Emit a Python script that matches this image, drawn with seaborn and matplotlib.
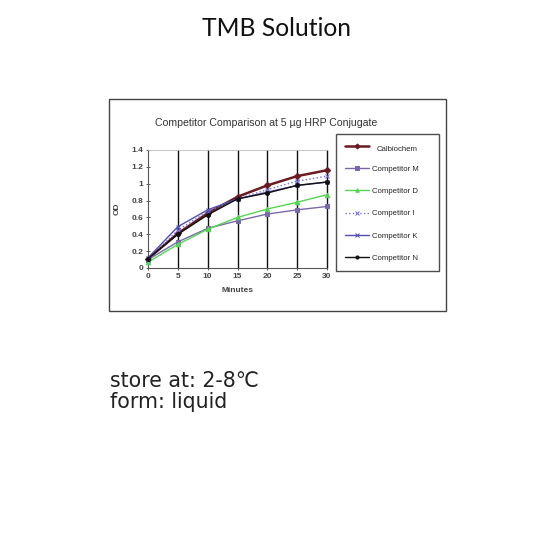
import matplotlib
matplotlib.use('Agg')
import matplotlib.pyplot as plt
import seaborn as sns
from matplotlib.patches import Rectangle

# Data
minutes = [0, 5, 10, 15, 20, 25, 30]
calbiochem = [0.11, 0.41, 0.65, 0.845, 0.98, 1.09, 1.16]
competitor_m = [0.10, 0.31, 0.47, 0.56, 0.64, 0.69, 0.73]
competitor_d = [0.07, 0.28, 0.46, 0.60, 0.70, 0.78, 0.87]
competitor_i = [0.10, 0.45, 0.67, 0.82, 0.93, 1.03, 1.09]
competitor_k = [0.12, 0.49, 0.69, 0.82, 0.90, 0.98, 1.02]
competitor_n = [0.11, 0.40, 0.63, 0.82, 0.89, 0.98, 1.02]
series_names = ['Calbiochem', 'Competitor M', 'Competitor D',
                'Competitor I', 'Competitor K', 'Competitor N']
y_ticks = [0, 0.2, 0.4, 0.6, 0.8, 1, 1.2, 1.4]
y_tick_labels = ['0', '0.2', '0.4', '0.6', '0.8', '1', '1.2', '1.4']

sns.set_style('white')
plt.rcParams['font.family'] = ['Liberation Sans', 'DejaVu Sans']

W = H = 553
fig = plt.figure(figsize=(5.53, 5.53), dpi=100)

def fx(px):
    return px / W

def fy(py):
    return 1 - py / H

# page texts
fig.text(0.5 + 0.5 / W, fy(29), 'TMB Solution', ha='center', va='center',
         fontsize=17.7, family=['Lato', 'DejaVu Sans'], color='#111111')
fig.text(fx(110), fy(381), 'store at: 2-8\u2103', ha='left', va='center',
         fontsize=14.8, family=['DejaVu Sans'], color='#222222')
fig.text(fx(110), fy(402), 'form: liquid', ha='left', va='center',
         fontsize=14.8, family=['DejaVu Sans'], color='#222222')

# outer chart frame
fig.patches.append(Rectangle((fx(109), fy(311)), fx(446) - fx(109), fy(99) - fy(311),
                             transform=fig.transFigure, fill=False,
                             edgecolor='#444444', linewidth=1.0))
fig.text(fx(266), fy(123), 'Competitor Comparison at 5 \u00b5g HRP Conjugate',
         ha='center', va='center', fontsize=7.6, color='#333333')

ax = fig.add_axes([fx(148), fy(268), fx(327) - fx(148), fy(150) - fy(268)])

styles = [
    dict(color='#6a1b22', marker='D', markersize=3.2, linestyle='-', linewidth=1.8),
    dict(color='#7a68a8', marker='s', markersize=2.8, linestyle='-', linewidth=1.0),
    dict(color='#55d455', marker='^', markersize=3.2, linestyle='-', linewidth=1.0),
    dict(color='#7070d8', marker='x', markersize=2.8, linestyle=':', linewidth=1.0),
    dict(color='#5050b0', marker='x', markersize=2.8, linestyle='-', linewidth=1.0),
    dict(color='#111111', marker='o', markersize=2.8, linestyle='-', linewidth=1.0),
]
all_series = [calbiochem, competitor_m, competitor_d, competitor_i, competitor_k, competitor_n]
for name, vals, st in zip(series_names, all_series, styles):
    sns.lineplot(x=minutes, y=vals, ax=ax, label=name, color=st['color'],
                 marker=st['marker'], markersize=st['markersize'],
                 markeredgecolor=st['color'], linestyle=st['linestyle'],
                 linewidth=st['linewidth'], clip_on=False, zorder=3)

ax.set_xlim(0, 30)
ax.set_ylim(0, 1.4)
ax.set_xticks(minutes)
ax.set_yticks(y_ticks)
ax.set_yticklabels(y_tick_labels)
for xv in minutes[1:]:
    ax.axvline(xv, color='#111111', linewidth=1.0, zorder=1, clip_on=False)
ax.tick_params(axis='both', labelsize=6, length=3, width=0.6, pad=2,
               colors='#444444', direction='inout', bottom=True, left=True)
for lbl in ax.get_xticklabels() + ax.get_yticklabels():
    lbl.set_fontweight('bold')
ax.spines['right'].set_visible(False)
ax.spines['top'].set_color('#bbbbbb')
ax.spines['top'].set_linewidth(0.6)
for s in ['left', 'bottom']:
    ax.spines[s].set_color('#555555')
    ax.spines[s].set_linewidth(0.8)
ax.set_xlabel('Minutes', fontsize=6, fontweight='bold', color='#444444', labelpad=5)
ax.set_ylabel('OD', fontsize=6, fontweight='bold', color='#444444', labelpad=8)

leg = ax.legend(loc='upper left',
                bbox_to_anchor=(fx(336), fy(275), fx(439) - fx(336), fy(134) - fy(275)),
                bbox_transform=fig.transFigure, mode='expand', fontsize=5.6,
                frameon=True, fancybox=False, edgecolor='#222222', handlelength=3.0,
                labelspacing=1.9, borderpad=1.2, handletextpad=0.4,
                borderaxespad=0, markerscale=0.8)
leg.get_frame().set_linewidth(1.0)
leg.get_texts()[0].set_position((5, -2))

fig.savefig('out.png', dpi=100, facecolor='white')
